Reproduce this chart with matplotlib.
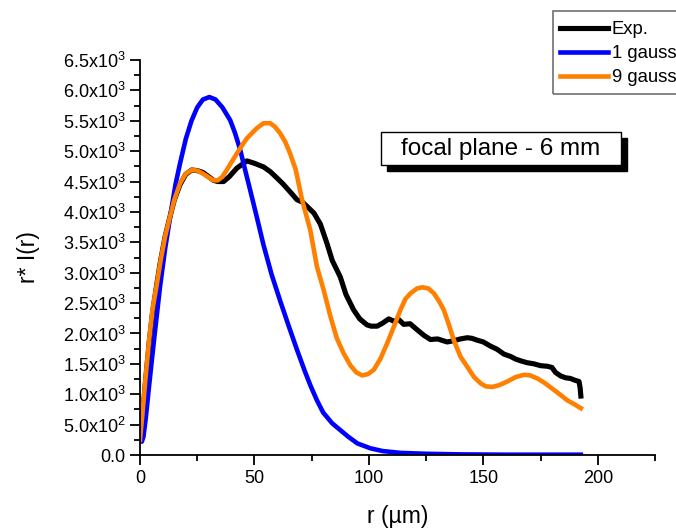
import numpy as np
import matplotlib.pyplot as plt
from matplotlib.ticker import MultipleLocator, FixedLocator
from matplotlib.patches import Rectangle

plt.rcParams['font.family'] = ['Liberation Sans', 'DejaVu Sans']
plt.rcParams['mathtext.default'] = 'regular'

# data
r_exp = [0, 1, 2.5, 4, 5.5, 7.3, 9, 11, 13.1, 15, 17.5, 20, 22.6, 25, 27.5, 30, 32.1, 34,
         36.5, 39, 42.3, 44.5, 46.7, 50, 54, 57, 59.8, 62.5, 65.6, 68.6, 71, 73, 76, 78.8,
         81.7, 84, 87.5, 90, 93.3, 96, 99.2, 101, 103.6, 106, 108.7, 111, 113, 115.2, 118,
         121.1, 124, 126.9, 130, 134.2, 137, 140, 143, 145, 147.3, 150, 153.2, 156, 159,
         162, 164, 166.3, 169, 172.1, 175, 178, 180, 181.5, 183.8, 186, 188, 190, 191.8,
         192.3, 192.6]
i_exp = [0.25, 0.6, 1.25, 1.85, 2.35, 2.8, 3.2, 3.6, 3.92, 4.2, 4.45, 4.62, 4.69, 4.68, 4.65,
         4.58, 4.52, 4.50, 4.50, 4.58, 4.72, 4.78, 4.84, 4.80, 4.74, 4.66, 4.56, 4.46, 4.33,
         4.20, 4.16, 4.09, 3.98, 3.80, 3.48, 3.20, 2.93, 2.64, 2.39, 2.24, 2.14, 2.12, 2.12,
         2.17, 2.24, 2.20, 2.23, 2.15, 2.16, 2.06, 1.97, 1.90, 1.91, 1.86, 1.88, 1.91, 1.93,
         1.92, 1.89, 1.86, 1.79, 1.74, 1.66, 1.62, 1.58, 1.55, 1.52, 1.50, 1.47, 1.46, 1.44,
         1.36, 1.30, 1.27, 1.26, 1.23, 1.21, 1.10, 0.97]

r_1g = [0, 0.8, 1.5, 2.5, 4, 6, 8.75, 11, 13.5, 15.5, 17.5, 20, 22.5, 25, 27.5, 30.3, 33,
        36, 39.4, 41.5, 43.8, 46, 48, 51, 54, 57.5, 61.3, 65, 68.6, 72, 74.5, 77.3, 80,
        84, 87.5, 91, 95, 100.7, 106, 113.8, 125, 140, 160, 180, 192.6]
i_1g = [0.25, 0.22, 0.3, 0.6, 1.15, 1.85, 2.77, 3.4, 4.0, 4.45, 4.8, 5.2, 5.5, 5.72, 5.85,
        5.89, 5.85, 5.72, 5.51, 5.3, 5.02, 4.68, 4.38, 3.92, 3.45, 2.97, 2.53, 2.12, 1.73,
        1.38, 1.14, 0.90, 0.70, 0.52, 0.41, 0.30, 0.19, 0.11, 0.065, 0.035, 0.02, 0.01,
        0.005, 0.005, 0.005]

r_9g = [0, 1, 2.5, 4, 5.5, 7.3, 9, 11, 13.1, 15, 17.5, 20, 22.6, 25, 27.5, 30, 32.1, 34,
        36, 37.9, 40, 42.3, 44.5, 46.7, 49, 51.1, 54, 56.9, 59, 61.3, 63.5, 65.6, 68, 70.8,
        74.4, 77.3, 80.2, 83.2, 86, 89, 92, 94.5, 97, 99.5, 102.1, 105, 108,
        111, 113.8, 116, 118.2, 121, 123.3, 126, 128.4, 130.5, 132.7, 135, 137.1, 140, 143,
        146, 148.8, 151, 153.9, 157, 160.5, 164, 167.7, 170.5, 173.6, 177, 180.9, 184,
        186.7, 190, 192.6]
i_9g = [0.25, 0.65, 1.3, 1.9, 2.4, 2.8, 3.2, 3.6, 3.92, 4.2, 4.47, 4.63, 4.69, 4.68, 4.63,
        4.57, 4.52, 4.52, 4.58, 4.69, 4.82, 4.96, 5.09, 5.21, 5.30, 5.38, 5.46, 5.46, 5.40,
        5.29, 5.15, 4.96, 4.70, 4.20, 3.70, 3.10, 2.72, 2.28, 1.92, 1.67, 1.47, 1.36,
        1.31, 1.33, 1.40, 1.58, 1.84, 2.12, 2.39, 2.57, 2.66, 2.74, 2.76, 2.74, 2.66, 2.54,
        2.39, 2.14, 1.89, 1.62, 1.45, 1.28, 1.18, 1.13, 1.12, 1.15, 1.21, 1.28, 1.32, 1.31,
        1.26, 1.18, 1.07, 0.98, 0.90, 0.83, 0.77]

ytick_vals = [0, 500, 1000, 1500, 2000, 2500, 3000, 3500, 4000, 4500, 5000, 5500, 6000, 6500]
ytick_labels = ['0.0', '5.0x10$^2$', '1.0x10$^3$', '1.5x10$^3$', '2.0x10$^3$', '2.5x10$^3$',
                '3.0x10$^3$', '3.5x10$^3$', '4.0x10$^3$', '4.5x10$^3$', '5.0x10$^3$',
                '5.5x10$^3$', '6.0x10$^3$', '6.5x10$^3$']

W, H = 676, 529
fig = plt.figure(figsize=(W/100, H/100), dpi=100)
ax = fig.add_axes([140/W, 74/H, 515/W, 395/H])

lw = 3.3
l1, = ax.plot(r_exp, np.array(i_exp)*1e3, color='black', lw=lw + 0.4, label='Exp.')
l2, = ax.plot(r_1g, np.array(i_1g)*1e3, color='#0000ff', lw=lw, label='1 gaussian')
l3, = ax.plot(r_9g, np.array(i_9g)*1e3, color='#ff8000', lw=lw, label='9 gaussians')

ax.set_xlim(0, 225)
ax.set_ylim(0, 6500)
ax.spines['top'].set_visible(False)
ax.spines['right'].set_visible(False)
ax.set_xticks([0, 50, 100, 150, 200])
ax.xaxis.set_minor_locator(FixedLocator([25, 75, 125, 175, 225]))
ax.yaxis.set_major_locator(FixedLocator(ytick_vals))
ax.set_yticklabels(ytick_labels)
ax.yaxis.set_minor_locator(MultipleLocator(250))
ax.tick_params(which='major', length=7, width=1.3, labelsize=13)
ax.tick_params(which='minor', length=4, width=1.3)
for s in ['left', 'bottom']:
    ax.spines[s].set_linewidth(1.3)

ax.set_xlabel('r (µm)', fontsize=16.5, labelpad=13)
ax.set_ylabel('r* I(r)', fontsize=16.5, labelpad=16)

# text box with drop shadow
fig.patches.append(Rectangle((387/W, 1 - 171/H), 240/W, 33/H, transform=fig.transFigure,
                             fc='black', ec='black', zorder=5))
fig.patches.append(Rectangle((381/W, 1 - 165/H), 240/W, 33/H, transform=fig.transFigure,
                             fc='white', ec='black', lw=1, zorder=6))
fig.text(501/W, 1 - 149/H, 'focal plane - 6 mm', fontsize=17.5, ha='center', va='center',
         zorder=7)

# legend frame drawn by hand (it runs off the right edge)
fig.patches.append(Rectangle((553/W, 1 - 94/H), 140/W, 83/H, transform=fig.transFigure,
                             fill=False, edgecolor='#707070', lw=1.2, zorder=5))
leg = fig.legend(handles=[l1, l2, l3], loc='upper left',
                 bbox_to_anchor=(560/W, 1 - 21/H), fontsize=13.3,
                 frameon=False, handlelength=2.6, handletextpad=0.2,
                 labelspacing=0.39, borderpad=0, borderaxespad=0)

fig.savefig('out.png', dpi=100)
